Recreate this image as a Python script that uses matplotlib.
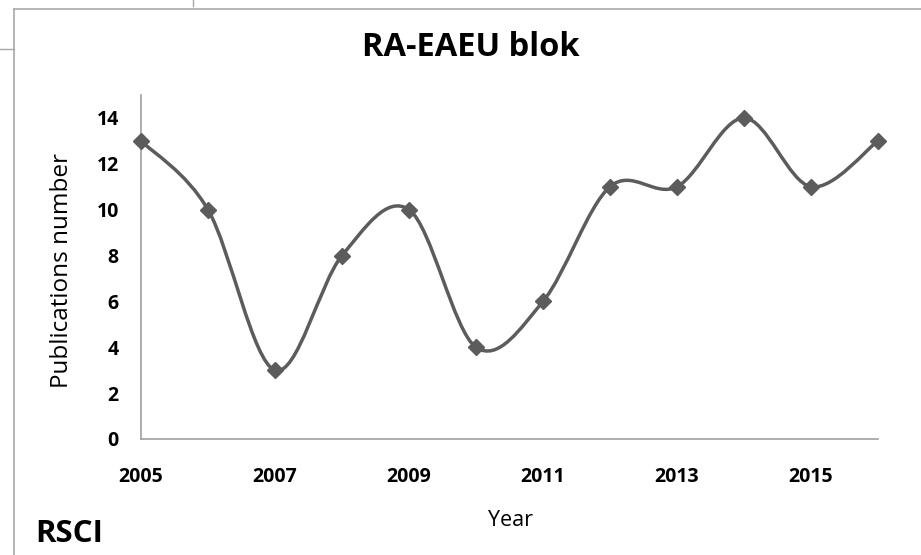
import numpy as np
import matplotlib
matplotlib.use('Agg')
import matplotlib.pyplot as plt
from matplotlib.path import Path
from matplotlib.patches import PathPatch
from matplotlib.lines import Line2D

years = [2005, 2006, 2007, 2008, 2009, 2010, 2011, 2012, 2013, 2014, 2015, 2016]
pubs = [13, 10, 3, 8, 10, 4, 6, 11, 11, 14, 11, 13]
xticks = [2005, 2007, 2009, 2011, 2013, 2015]
yticks = [0, 2, 4, 6, 8, 10, 12, 14]

W, H = 921, 555
plt.rcParams['font.family'] = ['Open Sans', 'DejaVu Sans']


def smooth_path(xs, ys):
    # Excel-like smoothed line: cubic bezier with catmull-rom control points
    pts = np.column_stack([xs, ys]).astype(float)
    n = len(pts)
    verts = [pts[0]]
    codes = [Path.MOVETO]
    for i in range(n - 1):
        p0 = pts[i - 1] if i > 0 else pts[i]
        p1 = pts[i]
        p2 = pts[i + 1]
        p3 = pts[i + 2] if i + 2 < n else pts[i + 1]
        c1 = p1 + (p2 - p0) / 6.0
        c2 = p2 - (p3 - p1) / 6.0
        verts += [c1, c2, p2]
        codes += [Path.CURVE4] * 3
    return Path(verts, codes)


fig = plt.figure(figsize=(W / 100, H / 100), dpi=100)
ax = fig.add_axes([141 / W, 1 - 439 / H, (878 - 141) / W, (439 - 95) / H])

line_col = '#5c5c5c'
ax.add_patch(PathPatch(smooth_path(years, pubs), facecolor='none',
                       edgecolor=line_col, lw=2.5, zorder=2))
ax.plot(years, pubs, linestyle='none', marker='D', markersize=8.5,
        color=line_col, zorder=3, clip_on=False)

ax.set_xlim(2005, 2016)
ax.set_ylim(0, 15)
ax.set_xticks(xticks)
ax.set_yticks(yticks)
ax.tick_params(length=0, labelsize=14)
ax.tick_params(axis='x', pad=20)
ax.tick_params(axis='y', pad=16)
for lab in ax.get_xticklabels() + ax.get_yticklabels():
    lab.set_fontweight('bold')
for s in ['top', 'right']:
    ax.spines[s].set_visible(False)
for s in ['left', 'bottom']:
    ax.spines[s].set_color('#a0a0a0')
    ax.spines[s].set_linewidth(1.2)

fig.text(471 / W, 1 - 47 / H, 'RA-EAEU blok', ha='center', va='center',
         fontsize=23.5, fontweight='bold')
fig.text(62 / W, 1 - 270 / H, 'Publications number', ha='center', va='center',
         rotation=90, fontsize=17.5)
fig.text(510 / W, 1 - 521 / H, 'Year', ha='center', va='center', fontsize=15.5)
fig.text(35 / W, 1 - 534 / H, 'RSCI', ha='left', va='center',
         fontsize=22.5, fontweight='bold')

# frame lines of the screenshot
fc = '#a8a8a8'
fig.add_artist(Line2D([14 / W, 14 / W], [0, 1 - 9 / H], color=fc, lw=1.2, transform=fig.transFigure))
fig.add_artist(Line2D([14 / W, 1], [1 - 9 / H, 1 - 9 / H], color=fc, lw=1.2, transform=fig.transFigure))
fig.add_artist(Line2D([193 / W, 193 / W], [1 - 6 / H, 1], color=fc, lw=1.0, transform=fig.transFigure))
fig.add_artist(Line2D([0, 14 / W], [1 - 49 / H, 1 - 49 / H], color=fc, lw=1.0, transform=fig.transFigure))

fig.savefig('out.png', dpi=100)
